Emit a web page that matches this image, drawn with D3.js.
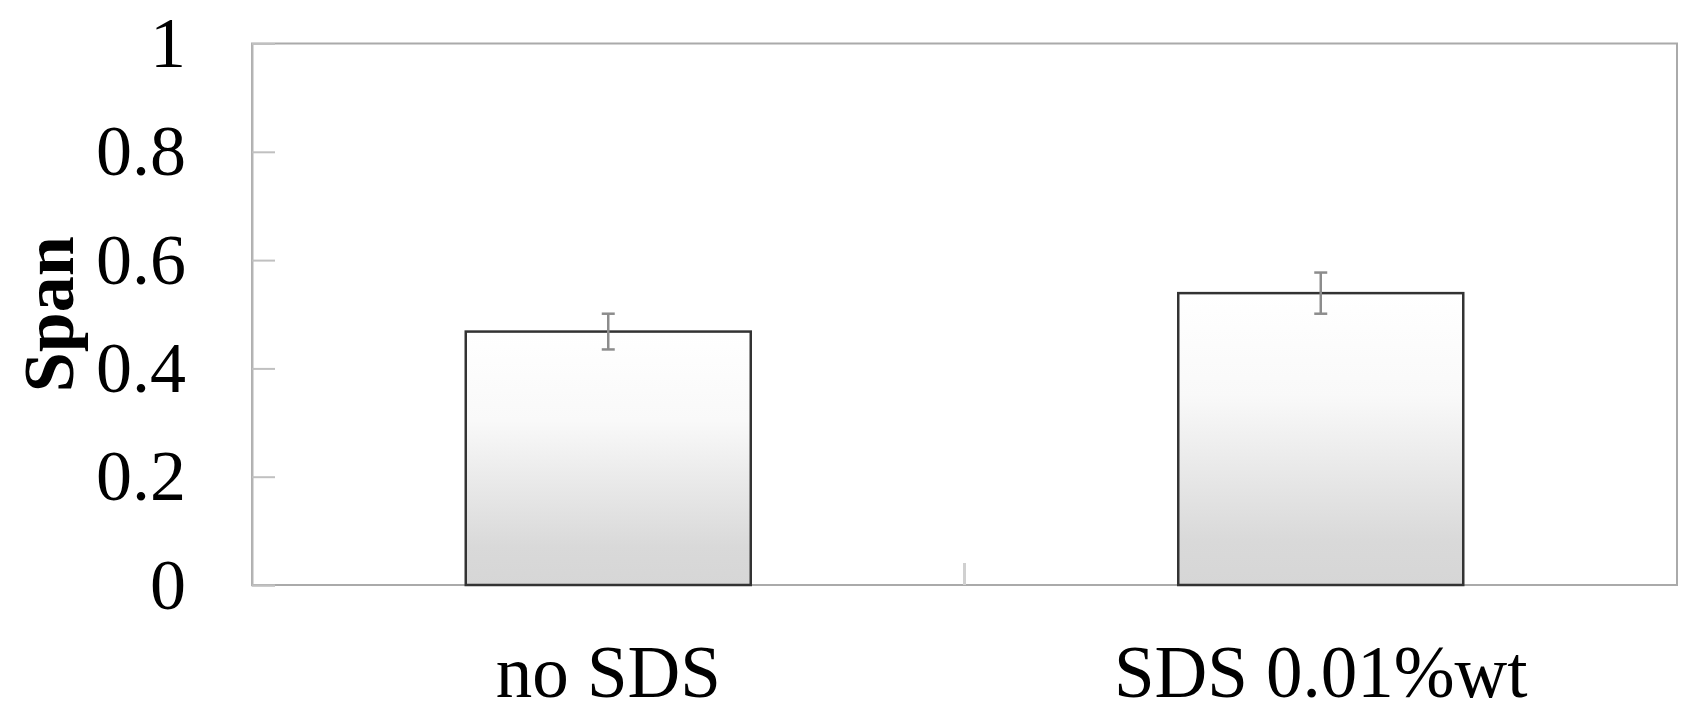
<!DOCTYPE html>
<html>
<head>
<meta charset="utf-8">
<script src="https://cdn.jsdelivr.net/npm/d3@7"></script>
<style>
  body { margin: 0; background: #fff; }
  text { font-family: "Liberation Serif", "Times New Roman", serif; fill: #000; }
</style>
</head>
<body>
<script>
// values
var categories = ["no SDS", "SDS 0.01%wt"];
var spanMean = [0.468, 0.539];
var spanErr = [0.033, 0.038];
var yTicks = [0, 0.2, 0.4, 0.6, 0.8, 1];
var yTickLabels = ["0", "0.2", "0.4", "0.6", "0.8", "1"];

var W = 1689, H = 705;
// note: "top" is taken by window.top, so use plot* names
var plotLeft = 252, plotRight = 1677, plotTop = 43.5, plotBottom = 585;

var svg = d3.select("body").append("svg")
            .attr("width", W)
            .attr("height", H);

var grad = svg.append("defs").append("linearGradient")
              .attr("id", "barfill")
              .attr("x1", 0).attr("y1", 0).attr("x2", 0).attr("y2", 1);
grad.append("stop").attr("offset", "0%").attr("stop-color", "#ffffff");
grad.append("stop").attr("offset", "35%").attr("stop-color", "#f9f9f9");
grad.append("stop").attr("offset", "85%").attr("stop-color", "#d9d9d9");
grad.append("stop").attr("offset", "100%").attr("stop-color", "#d6d6d6");

var x = d3.scaleBand().domain(categories).range([plotLeft, plotRight]).padding(0);
var y = d3.scaleLinear().domain([0, 1]).range([plotBottom, plotTop]);
var barW = x.bandwidth() * 0.4;

// plot frame
svg.append("rect")
   .attr("x", plotLeft).attr("y", plotTop)
   .attr("width", plotRight - plotLeft).attr("height", plotBottom - plotTop)
   .attr("fill", "none")
   .attr("stroke", "#aaaaaa")
   .attr("stroke-width", 2);

// y axis with inward ticks
var yAxis = svg.append("g")
   .attr("transform", "translate(" + plotLeft + ",0)")
   .call(d3.axisLeft(y)
           .tickValues(yTicks)
           .tickSize(-23)
           .tickPadding(66)
           .tickFormat(function (d, i) { return yTickLabels[i]; }));
yAxis.select(".domain").attr("stroke", "#b5b5b5").attr("stroke-width", 2);
yAxis.selectAll(".tick line").attr("stroke", "#c0c0c0").attr("stroke-width", 2);
yAxis.selectAll(".tick text")
     .attr("font-size", 72)
     .attr("font-family", "Liberation Serif, Times New Roman, serif")
     .attr("fill", "#000");

// separator tick between the categories
svg.selectAll(".sep")
   .data(categories.slice(1))
   .enter()
   .append("line")
   .attr("x1", function (d) { return x(d); })
   .attr("x2", function (d) { return x(d); })
   .attr("y1", plotBottom)
   .attr("y2", plotBottom - 22)
   .attr("stroke", "#d0d0d0")
   .attr("stroke-width", 3);

// bars
svg.selectAll(".bar")
   .data(categories)
   .enter()
   .append("rect")
   .attr("x", function (d) { return x(d) + (x.bandwidth() - barW) / 2; })
   .attr("y", function (d, i) { return y(spanMean[i]); })
   .attr("width", barW)
   .attr("height", function (d, i) { return y(0) - y(spanMean[i]); })
   .attr("fill", "url(#barfill)")
   .attr("stroke", "#333333")
   .attr("stroke-width", 2.5);

// error bars
var eb = svg.selectAll(".err")
            .data(categories)
            .enter()
            .append("g")
            .attr("stroke", "#8c8c8c")
            .attr("stroke-width", 2.5);
eb.append("line")
  .attr("x1", function (d) { return x(d) + x.bandwidth() / 2; })
  .attr("x2", function (d) { return x(d) + x.bandwidth() / 2; })
  .attr("y1", function (d, i) { return y(spanMean[i] + spanErr[i]); })
  .attr("y2", function (d, i) { return y(spanMean[i] - spanErr[i]); });
eb.append("line")
  .attr("x1", function (d) { return x(d) + x.bandwidth() / 2 - 6.5; })
  .attr("x2", function (d) { return x(d) + x.bandwidth() / 2 + 6.5; })
  .attr("y1", function (d, i) { return y(spanMean[i] + spanErr[i]); })
  .attr("y2", function (d, i) { return y(spanMean[i] + spanErr[i]); });
eb.append("line")
  .attr("x1", function (d) { return x(d) + x.bandwidth() / 2 - 6.5; })
  .attr("x2", function (d) { return x(d) + x.bandwidth() / 2 + 6.5; })
  .attr("y1", function (d, i) { return y(spanMean[i] - spanErr[i]); })
  .attr("y2", function (d, i) { return y(spanMean[i] - spanErr[i]); });

// category labels
var xAxis = svg.append("g")
   .attr("transform", "translate(0," + plotBottom + ")")
   .call(d3.axisBottom(x).tickSize(0).tickSizeOuter(0));
xAxis.select(".domain").remove();
xAxis.selectAll(".tick text")
     .attr("y", 112)
     .attr("dy", 0)
     .attr("font-size", 73)
     .attr("font-family", "Liberation Serif, Times New Roman, serif")
     .attr("fill", "#000");

// y title
svg.append("text")
   .attr("transform", "translate(73," + ((plotTop + plotBottom) / 2) + ") rotate(-90)")
   .attr("text-anchor", "middle")
   .attr("font-size", 72)
   .attr("font-weight", "bold")
   .text("Span");
</script>
</body>
</html>
